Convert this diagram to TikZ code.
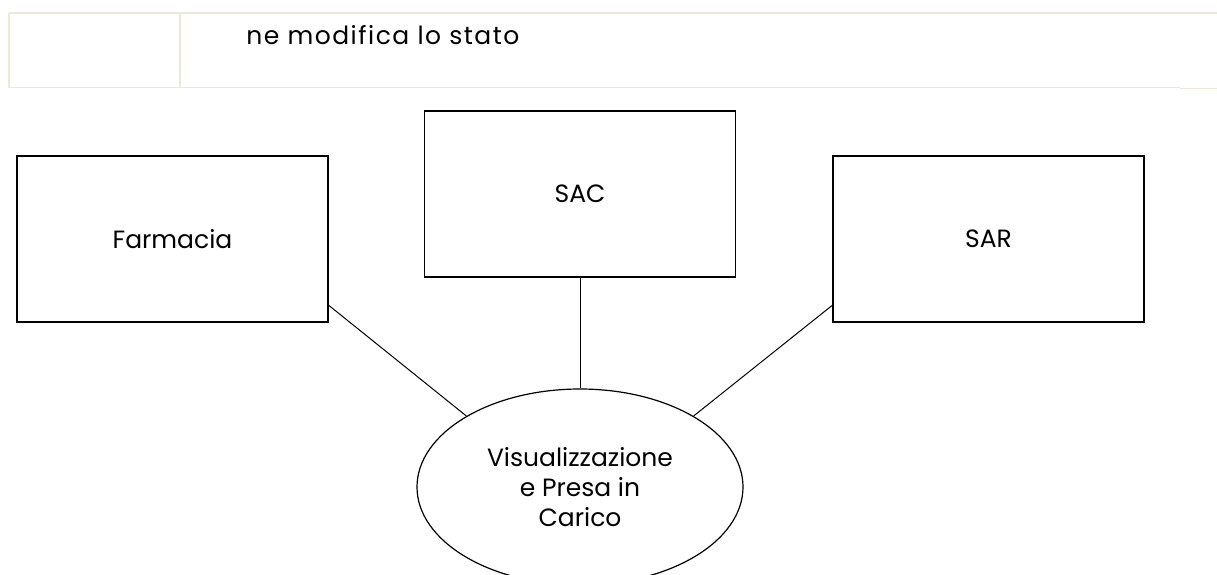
\documentclass[tikz,border=0pt]{standalone}
\usepackage{fontspec}
\setmainfont{Poppins}
\usetikzlibrary{positioning,shapes.geometric}
\definecolor{tabella}{HTML}{ECE9D8}

\begin{document}
\begin{tikzpicture}[x=0.5pt,y=-0.5pt,
			% rettangolo degli attori
			attore/.style={rectangle, draw=black, line width=0.75pt, minimum width=155.5pt, minimum height=83pt, font=\fontsize{12.5}{15}\selectfont},
			% ellisse del caso d'uso
			casouso/.style={ellipse, draw=black, line width=0.6pt, minimum width=163pt, minimum height=98pt, inner sep=0pt, align=center, font=\fontsize{12.5}{15}\selectfont},
			% righe della tabella sopra
			riga/.style={draw=tabella, line width=0.6pt},
			legame/.style={draw=black, line width=0.5pt}
		]
		\useasboundingbox (0,0) rectangle (1217,574);
		\clip (0,0) rectangle (1217,574);

		% tabella
		\draw[riga, line width=1pt] (9,12.5) -- (1217,12.5);
		\draw[riga] (9,12.5) -- (9,87.5) -- (1180,87.5);
		\draw[riga, line width=0.9pt] (1180,88.5) -- (1217,88.5);
		\draw[riga] (180,12.5) -- (180,87.5);
		\node[anchor=west, inner sep=0pt, font=\fontsize{12.5}{15}\selectfont\addfontfeature{LetterSpace=6}] (stato) at (246,35) {ne modifica lo stato};

		%Nodes
		\node[attore]           (sac)           at (580,194)                                {SAC};
		\node[attore]           (farmacia)      at (172.5,239)                              {Farmacia};
		\node[attore]           (sar)           at (988.5,239)                              {SAR};
		\node[casouso]          (visual)        at (580,487)                                {Visualizzazione\\e Presa in\\Carico};

		%Lines
		\draw[legame] (farmacia.-23.6)  --  (visual.148);
		\draw[legame] (sac)             --  (visual);
		\draw[legame] (sar.203.6)       --  (visual.32);
	\end{tikzpicture}
\end{document}
